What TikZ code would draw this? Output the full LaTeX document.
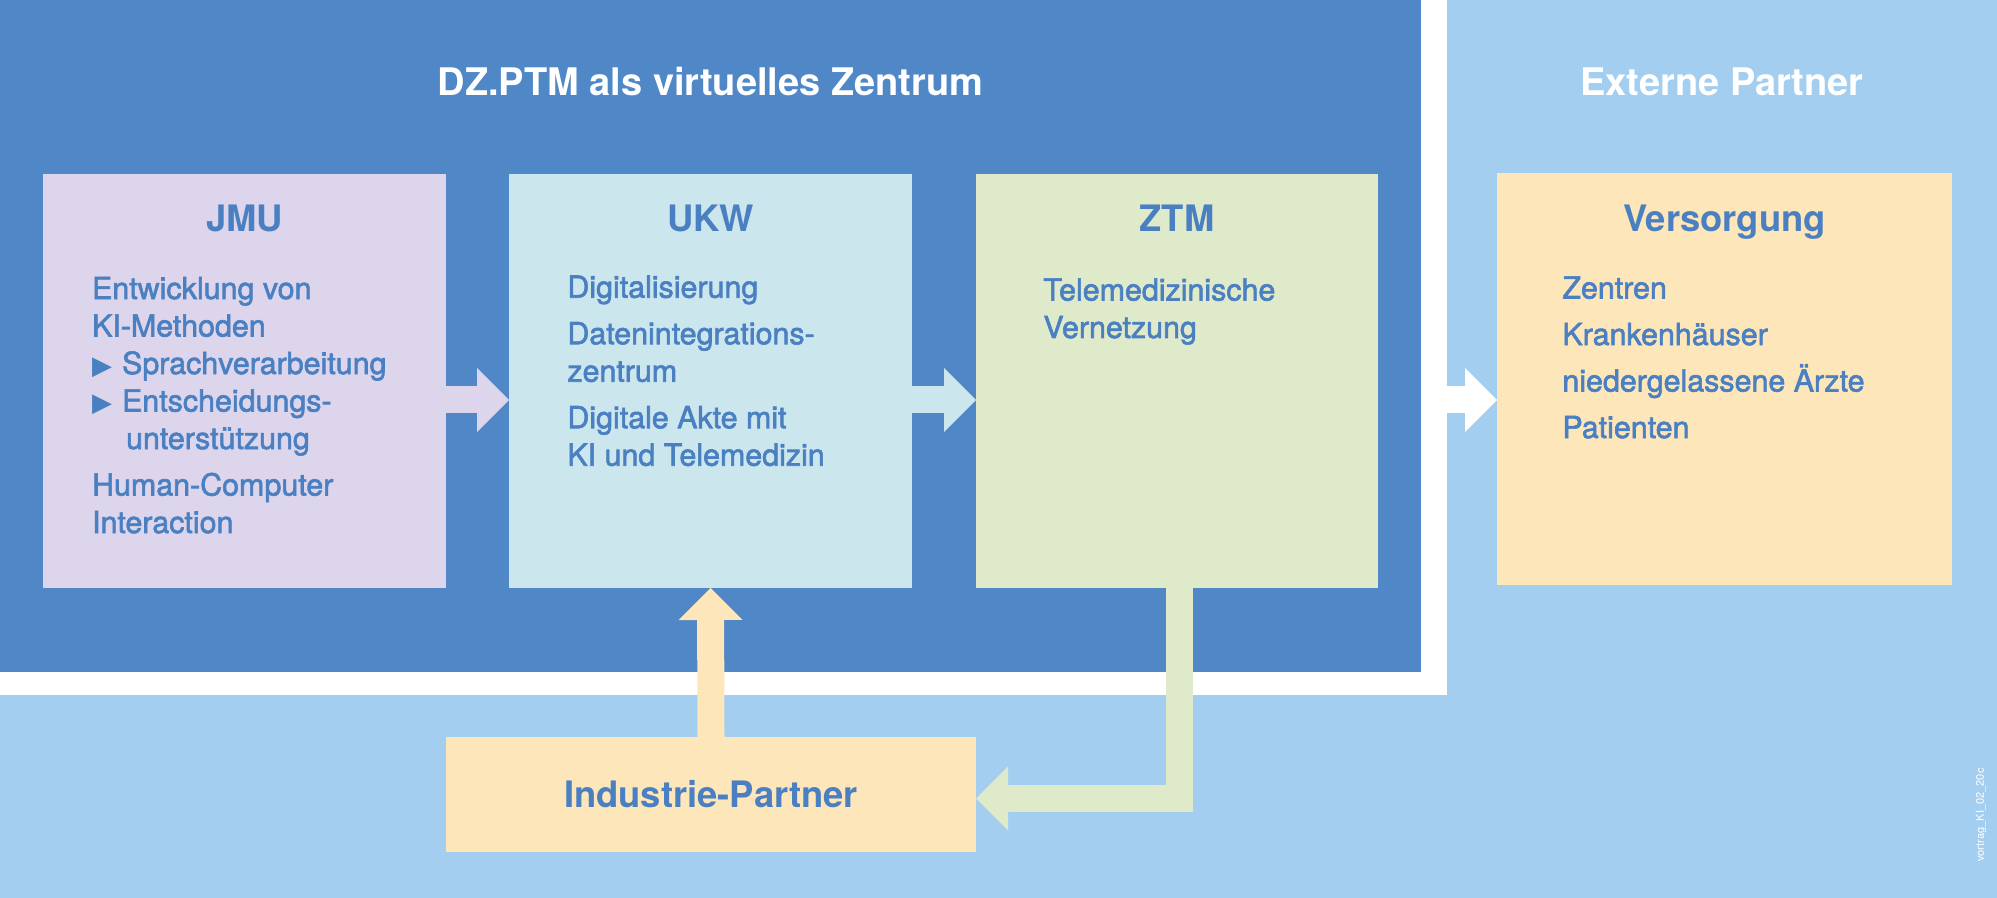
\documentclass[tikz,border=0pt]{standalone}
\usepackage{fontspec}
\setmainfont{TeX Gyre Heros}
\newfontfamily\mittel[FakeBold=2]{TeX Gyre Heros}
\newfontfamily\symbole{DejaVu Sans}
\usetikzlibrary{arrows.meta,positioning}
\definecolor{dunkelblau}{HTML}{4F87C7}
\definecolor{hellblau}{HTML}{A3CEF0}
\definecolor{schrift}{HTML}{4A80C2}
\definecolor{lila}{HTML}{DCD5EB}
\definecolor{tuerkis}{HTML}{CCE6EE}
\definecolor{gruen}{HTML}{DFEACB}
\definecolor{creme}{HTML}{FEE6BB}
\tikzset{
  kasten/.style={anchor=north west,inner sep=0pt,outer sep=0pt},
  titel/.style={font=\fontsize{19}{23}\selectfont\bfseries,text=white,
    inner sep=0pt,anchor=base},
  kopf/.style={font=\fontsize{18.2}{22}\selectfont\bfseries,text=schrift,
    inner sep=0pt,anchor=base},
  liste/.style={font=\mittel\fontsize{15.2}{18.75}\selectfont,text=schrift,
    align=left,inner sep=0pt,anchor=base west},
  % Blockpfeile: breite Linie mit grosser Spitze
  pfeil/.style={line width=13.5pt,
    -{Triangle[length=16pt,width=32pt,line width=0pt]}}
}
% Aufzaehlungszeichen
\newcommand\pkt{\makebox[15pt][l]{\symbole\fontsize{13}{13}\selectfont ▶}}

\begin{document}
\begin{tikzpicture}[x=0.5pt,y=-0.5pt]
\useasboundingbox (0,0) rectangle (1997,898);
% Hintergrund
  \fill[hellblau] (0,0) rectangle (1997,898);
  \node[kasten,fill=white,minimum width=723.5pt,minimum height=347.5pt]
    (rand) at (0,0) {};
  \node[kasten,fill=dunkelblau,minimum width=710.5pt,minimum height=336pt]
    (zentrum) at (0,0) {};
  \node[titel] (t1) at (710.5,96) {DZ.PTM als virtuelles Zentrum};
  \node[titel] (t2) at (1722,96) {Externe Partner};
% Kaesten
  \node[kasten,fill=lila,minimum width=201.5pt,minimum height=207pt]
    (jmu) at (43,174) {};
  \node[kasten,fill=tuerkis,minimum width=201.5pt,minimum height=207pt]
    (ukw) at (509,174) {};
  \node[kasten,fill=gruen,minimum width=201pt,minimum height=207pt]
    (ztm) at (976,174) {};
  \node[kasten,fill=creme,minimum width=227.5pt,minimum height=206pt]
    (vers) at (1497,173) {};
  \node[kasten,fill=creme,minimum width=265pt,minimum height=57.5pt,
    font=\fontsize{18.2}{22}\selectfont\bfseries,text=schrift]
    (ind) at (446,737) {Industrie-Partner};
% Ueberschriften
  \foreach \k/\bez in {jmu/JMU,ukw/UKW,ztm/ZTM,vers/Versorgung}
    \node[kopf] (\k-kopf) at (\k.north |- 0,232) {\bez};
% Inhalte (Grundlinie der letzten Zeile)
  \node[liste] (jmu-text) at (91.7,533) {Entwicklung von\\KI-Methoden\\
    \pkt Sprachverarbeitung\\\pkt Entscheidungs-\\
    \hspace*{17pt}unterstützung\\[4.5pt]Human-Computer\\Interaction};
  \node[liste] (ukw-text) at (567,465.7) {Digitalisierung\\[4.5pt]
    Datenintegrations-\\zentrum\\[4.5pt]Digitale Akte mit\\KI und Telemedizin};
  \node[liste] (ztm-text) at (1043,338) {Telemedizinische\\Vernetzung};
  \node[liste] (vers-text) at (1562,438) {Zentren\\[4.5pt]Krankenhäuser\\[4.5pt]
    niedergelassene Ärzte\\[4.5pt]Patienten};
% Pfeile
  \coordinate (hoehe) at (0,400);
  \draw[pfeil,lila] (jmu.east |- hoehe) -- (ukw.west |- hoehe);
  \draw[pfeil,tuerkis] (ukw.east |- hoehe) -- (ztm.west |- hoehe);
  \draw[pfeil,white] (rand.east |- hoehe) -- (vers.west |- hoehe);
  \draw[pfeil,creme] (ind.north) -- (ukw.south);
  \draw[pfeil,gruen] ([xshift=1.25pt]ztm.south) |- ([yshift=-2pt]ind.east);
% Kennung
  \node[rotate=90,text=white,font=\fontsize{5.5}{6}\selectfont,inner sep=0pt]
    (kennung) at (1981,815) {vortrag\_KI\_02\_20c};
\end{tikzpicture}
\end{document}
